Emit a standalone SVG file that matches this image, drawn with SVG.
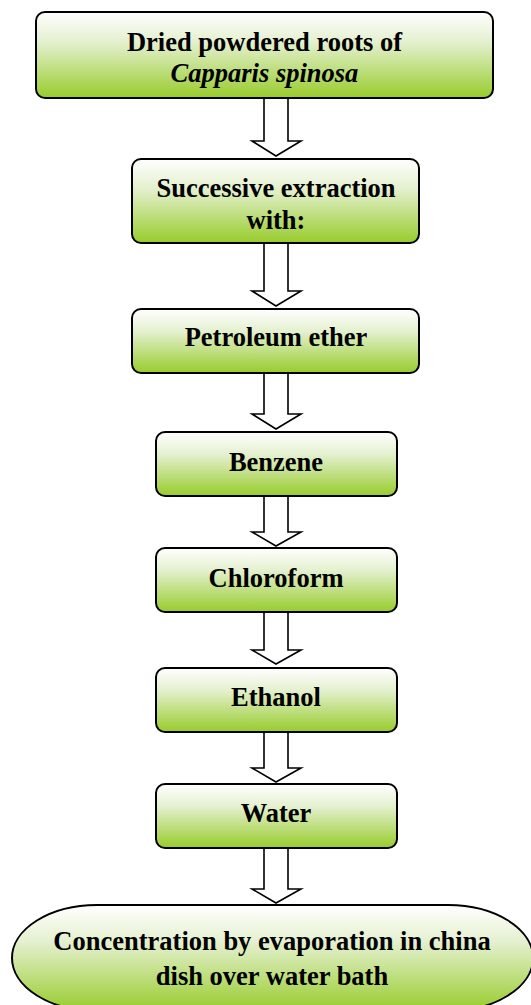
<svg xmlns="http://www.w3.org/2000/svg" width="531" height="1005" viewBox="0 0 531 1005">
<defs>
<linearGradient id="g" x1="0" y1="0" x2="0" y2="1">
<stop offset="0" stop-color="#ffffff"/>
<stop offset="0.35" stop-color="#e4f0cf"/>
<stop offset="1" stop-color="#98cc2c"/>
</linearGradient>
<style>
.box{fill:url(#g);stroke:#000;stroke-width:2}
.t{font-family:"Liberation Serif","Times New Roman",serif;font-weight:bold;font-size:26.5px;fill:#000;text-anchor:middle}
.arr{fill:#fff;stroke:#000;stroke-width:1.6;stroke-linejoin:miter}
</style>
</defs>
<g id="connectors">
<polygon class="arr" points="264,98 288,98 288,141 301,141 276,156 252,141 264,141"/>
<polygon class="arr" points="264,243 288,243 288,291 301,291 276,306 252,291 264,291"/>
<polygon class="arr" points="264,373 288,373 288,414 301,414 276,429 252,414 264,414"/>
<polygon class="arr" points="264,496 288,496 288,532 301,532 276,546 252,532 264,532"/>
<polygon class="arr" points="264,612 288,612 288,650 301,650 276,664 252,650 264,650"/>
<polygon class="arr" points="264,732 288,732 288,768 301,768 276,782 252,768 264,768"/>
<polygon class="arr" points="264,848 288,848 288,889 301,889 276,903 252,889 264,889"/>
</g>
<g id="n1">
<rect class="box" x="36" y="12" width="457" height="86" rx="9"/>
<text class="t" x="264.5" y="51">Dried powdered roots of</text>
<text class="t" x="264.5" y="82" font-style="italic">Capparis spinosa</text>
</g>
<g id="n2">
<rect class="box" x="132" y="159" width="287" height="84" rx="9"/>
<text class="t" x="276" y="197">Successive extraction</text>
<text class="t" x="276" y="229">with:</text>
</g>
<g id="n3">
<rect class="box" x="132" y="309" width="287" height="64" rx="9"/>
<text class="t" x="276" y="346">Petroleum ether</text>
</g>
<g id="n4">
<rect class="box" x="156" y="432" width="241" height="64" rx="9"/>
<text class="t" x="276" y="471">Benzene</text>
</g>
<g id="n5">
<rect class="box" x="156" y="548" width="241" height="64" rx="9"/>
<text class="t" x="276" y="587">Chloroform</text>
</g>
<g id="n6">
<rect class="box" x="156" y="668" width="241" height="64" rx="9"/>
<text class="t" x="276" y="706">Ethanol</text>
</g>
<g id="n7">
<rect class="box" x="156" y="784" width="241" height="64" rx="9"/>
<text class="t" x="276" y="822">Water</text>
</g>
<g id="n8">
<rect class="box" x="12" y="905" width="521" height="106" rx="85" ry="53"/>
<text class="t" x="272" y="950">Concentration by evaporation in china</text>
<text class="t" x="272" y="985">dish over water bath</text>
</g>
</svg>
